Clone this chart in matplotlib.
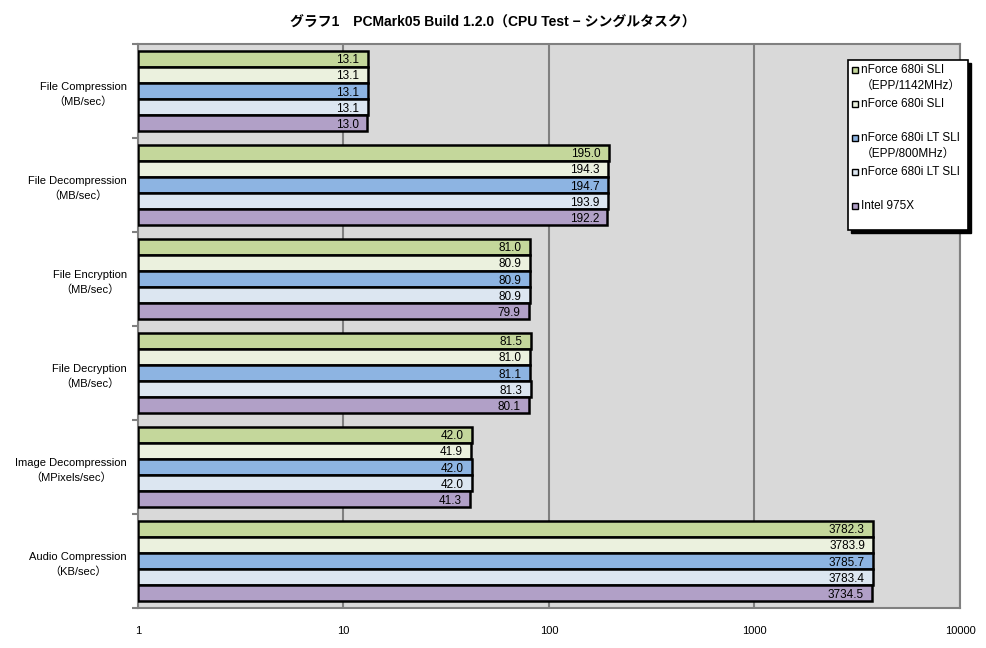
import matplotlib.pyplot as plt
from matplotlib.patches import Rectangle
import numpy as np

plt.rcParams['font.family'] = ['Liberation Sans', 'Noto Sans CJK JP']

categories = ['File Compression\n（MB/sec）', 'File Decompression\n（MB/sec）',
              'File Encryption\n（MB/sec）', 'File Decryption\n（MB/sec）',
              'Image Decompression\n（MPixels/sec）', 'Audio Compression\n（KB/sec）']
series = ['nForce 680i SLI\n（EPP/1142MHz）', 'nForce 680i SLI',
          'nForce 680i LT SLI\n（EPP/800MHz）', 'nForce 680i LT SLI', 'Intel 975X']
colors = ['#C4D79B', '#EBF1DE', '#8DB4E2', '#DCE6F1', '#B1A0C7']

sli_epp = [13.1, 195.0, 81.0, 81.5, 42.0, 3782.3]
sli = [13.1, 194.3, 80.9, 81.0, 41.9, 3783.9]
lt_epp = [13.1, 194.7, 80.9, 81.1, 42.0, 3785.7]
lt = [13.1, 193.9, 80.9, 81.3, 42.0, 3783.4]
intel = [13.0, 192.2, 79.9, 80.1, 41.3, 3734.5]
values = [sli_epp, sli, lt_epp, lt, intel]

W, H = 987, 648
fig = plt.figure(figsize=(W / 100, H / 100), dpi=100)
ax = fig.add_axes([138 / W, 1 - 608 / H, 822 / W, 564 / H])
ax.set_facecolor('#D9D9D9')

n = len(series)
group = 0.86
bw = group / n
y = np.arange(len(categories))
for i, (vals, c) in enumerate(zip(values, colors)):
    pos = y - group / 2 + bw * (i + 0.5)
    ax.barh(pos, [v - 1 for v in vals], height=bw, left=1, color=c, edgecolor='black',
            linewidth=1.8, zorder=3)
    for p, v in zip(pos, vals):
        ax.annotate(f'{v:.1f}', (v, p), xytext=(-6, 0), textcoords='offset points',
                    ha='right', va='center_baseline', fontsize=8.5, zorder=4)

ax.set_xscale('log')
ax.set_xlim(1, 10000)
ax.set_ylim(len(categories) - 0.5, -0.5)
ax.set_xticks([1, 10, 100, 1000, 10000])
ax.set_xticklabels(['1', '10', '100', '1000', '10000'])
ax.xaxis.set_minor_locator(plt.NullLocator())
ax.tick_params(axis='x', length=0, pad=13, labelsize=8)
ax.grid(axis='x', color='#808080', linewidth=1.5, zorder=1)

ax.set_yticks(y)
ax.set_yticklabels(categories, ha='right', multialignment='center', fontsize=8, linespacing=1.55)
ax.tick_params(axis='y', length=0, pad=8)
ax.set_yticks(np.arange(len(categories) + 1) - 0.5, minor=True)
ax.tick_params(axis='y', which='minor', length=4, width=1.5, color='#808080')

for s in ax.spines.values():
    s.set_color('#808080')
    s.set_linewidth(1.5)

fig.text(493 / W, 1 - 23 / H, 'グラフ1　PCMark05 Build 1.2.0（CPU Test − シングルタスク）',
         ha='center', va='center', fontsize=10, fontweight='bold')

# legend box
lx0, ly0, lx1, ly1 = 848, 60, 968, 230
fig.patches.append(Rectangle((lx0 / W + 3 / W, 1 - (ly1 + 3) / H), (lx1 - lx0) / W, (ly1 - ly0) / H,
                             transform=fig.transFigure, facecolor='black', edgecolor='black', zorder=5))
fig.patches.append(Rectangle((lx0 / W, 1 - ly1 / H), (lx1 - lx0) / W, (ly1 - ly0) / H,
                             transform=fig.transFigure, facecolor='white', edgecolor='black',
                             linewidth=1.2, zorder=6))
for i, (lab, c) in enumerate(zip(series, colors)):
    yy = 70 + 34 * i
    fig.patches.append(Rectangle((852 / W, 1 - (yy + 3) / H), 6 / W, 6 / H, transform=fig.transFigure,
                                 facecolor=c, edgecolor='black', linewidth=1, zorder=7))
    for j, line in enumerate(lab.split('\n')):
        fig.text(861 / W, 1 - (yy + 16 * j) / H, line, ha='left', va='center', fontsize=8.5, zorder=8)

fig.savefig('out.png', dpi=100)
